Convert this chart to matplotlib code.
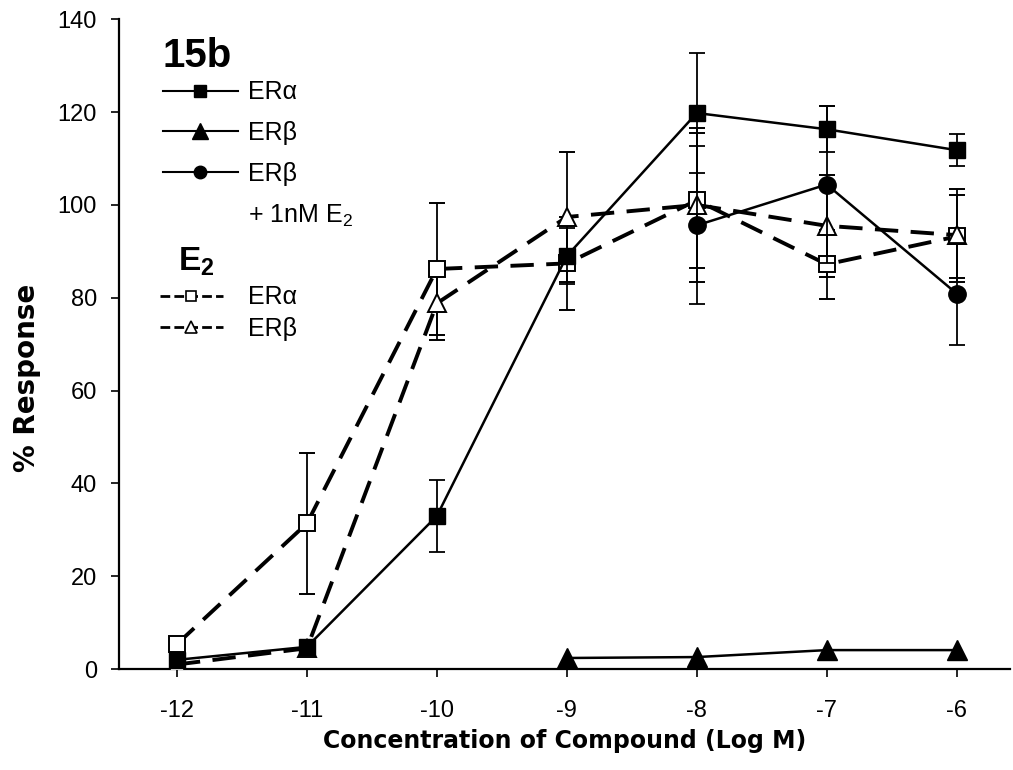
import matplotlib
matplotlib.use("Agg")
import matplotlib.pyplot as plt
from matplotlib.lines import Line2D

plt.rcParams['font.family'] = ['Liberation Sans', 'DejaVu Sans']
plt.rcParams['mathtext.fontset'] = 'custom'
plt.rcParams['mathtext.rm'] = 'Liberation Sans'
plt.rcParams['mathtext.bf'] = 'Liberation Sans:bold'
plt.rcParams['mathtext.it'] = 'Liberation Sans:italic'

# ---- data ----
log_conc = [-12, -11, -10, -9, -8, -7, -6]

era_15b = [2.0, 4.8, 33.0, 89.0, 119.8, 116.3, 111.8]
era_15b_err = [0, 0, 7.8, 6.0, 13.0, 5.0, 3.4]

erb_15b_x = [-9, -8, -7, -6]
erb_15b = [2.4, 2.6, 4.1, 4.1]

erb_e2_15b_x = [-8, -7, -6]
erb_e2_15b = [95.6, 104.4, 80.9]
erb_e2_15b_err = [17.0, 17.0, 11.0]

era_e2 = [5.4, 31.4, 86.2, 87.4, 101.0, 87.2, 93.2]
era_e2_err = [0, 15.2, 14.2, 10.0, 14.6, 7.5, 9.0]

erb_e2 = [1.0, 4.5, 78.8, 97.4, 100.0, 95.5, 93.5]
erb_e2_err = [0, 0, 8.0, 14.0, 16.5, 11.0, 10.0]

yticks = [0, 20, 40, 60, 80, 100, 120, 140]
xticks = [-12, -11, -10, -9, -8, -7, -6]

legend_15b_labels = ['ERα', 'ERβ', 'ERβ', '+ 1nM E$_\\mathrm{2}$']
legend_e2_labels = ['ERα', 'ERβ']

# ---- figure ----
fig = plt.figure(figsize=(10.13, 7.70), dpi=100)
ax = fig.add_axes([0.1175, 0.131, 0.8795, 0.844])

solid_lw = 1.8
dash_lw = 2.8
dash_style = (0, (6, 3.2))
cap = 5.5
elw = 1.3

# E2 ERalpha (open squares, dashed)
ax.errorbar(log_conc, era_e2, yerr=era_e2_err, color='black', lw=dash_lw,
            linestyle=dash_style, marker='s', ms=12, mfc='white', mec='black',
            mew=1.4, ecolor='black', elinewidth=elw, capsize=cap, capthick=elw,
            zorder=3)
# E2 ERbeta (open triangles, dashed)
ax.errorbar(log_conc, erb_e2, yerr=erb_e2_err, color='black', lw=dash_lw,
            linestyle=dash_style, marker='^', ms=13, mfc='white', mec='black',
            mew=1.4, ecolor='black', elinewidth=elw, capsize=cap, capthick=elw,
            zorder=3)
# 15b ERalpha (filled squares)
ax.errorbar(log_conc, era_15b, yerr=era_15b_err, color='black', lw=solid_lw,
            linestyle='-', marker='s', ms=12, mfc='black', mec='black',
            ecolor='black', elinewidth=elw, capsize=cap, capthick=elw, zorder=4)
# 15b ERbeta (filled triangles)
ax.plot(erb_15b_x, erb_15b, color='black', lw=solid_lw, marker='^', ms=14,
        mfc='black', mec='black', zorder=4)
# 15b ERbeta + 1nM E2 (filled circles)
ax.errorbar(erb_e2_15b_x, erb_e2_15b, yerr=erb_e2_15b_err, color='black',
            lw=solid_lw, linestyle='-', marker='o', ms=12.5, mfc='black',
            mec='black', ecolor='black', elinewidth=elw, capsize=cap,
            capthick=elw, zorder=4)

ax.set_xlim(-12.446, -5.59)
ax.set_ylim(0, 140)
ax.set_xticks(xticks)
ax.set_xticklabels([str(t) for t in xticks])
ax.set_yticks(yticks)
ax.set_yticklabels([str(t) for t in yticks])
ax.tick_params(direction='out', length=6, width=1.2, labelsize=17)
ax.tick_params(axis='x', pad=16)
ax.tick_params(axis='y', pad=10)
for s in ['top', 'right']:
    ax.spines[s].set_visible(False)
for s in ['left', 'bottom']:
    ax.spines[s].set_linewidth(1.6)

ax.set_xlabel('Concentration of Compound (Log M)', fontsize=17,
              fontweight='bold', family='DejaVu Sans', labelpad=5)
ax.set_ylabel('% Response', fontsize=20, fontweight='bold',
              family='DejaVu Sans')
ax.yaxis.set_label_coords(-0.088, 0.448)

# ---- legends ----
h1 = [Line2D([], [], color='black', lw=1.5, marker='s', ms=9, mfc='black'),
      Line2D([], [], color='black', lw=1.5, marker='^', ms=11, mfc='black'),
      Line2D([], [], color='black', lw=1.5, marker='o', ms=9, mfc='black'),
      Line2D([], [], color='none', lw=0)]
leg1 = ax.legend(h1, legend_15b_labels, loc='upper left',
                 bbox_to_anchor=(0.049, 0.973),
                 frameon=False, fontsize=18, handlelength=3.0,
                 handletextpad=0.4, labelspacing=0.67, borderpad=0,
                 borderaxespad=0, title='15b', alignment='left')
leg1.get_title().set_fontsize(29)
leg1.get_title().set_fontweight('bold')
leg1._legend_box.sep = 4
ax.add_artist(leg1)

h2 = [Line2D([], [], color='black', lw=2.0, linestyle=(0, (3.5, 1.5)),
             marker='s', ms=7, mfc='white', mew=1.2),
      Line2D([], [], color='black', lw=2.0, linestyle=(0, (3.5, 1.5)),
             marker='^', ms=9, mfc='white', mew=1.2)]
leg2 = ax.legend(h2, legend_e2_labels, loc='upper left',
                 bbox_to_anchor=(0.046, 0.652),
                 frameon=False, fontsize=18, handlelength=2.5,
                 handletextpad=1.0, labelspacing=0.3, borderpad=0,
                 borderaxespad=0, title='$\\hspace{0.65}\\mathbf{E_2}$',
                 alignment='left')
leg2.get_title().set_fontsize(24)

fig.savefig('out.png', dpi=100)
